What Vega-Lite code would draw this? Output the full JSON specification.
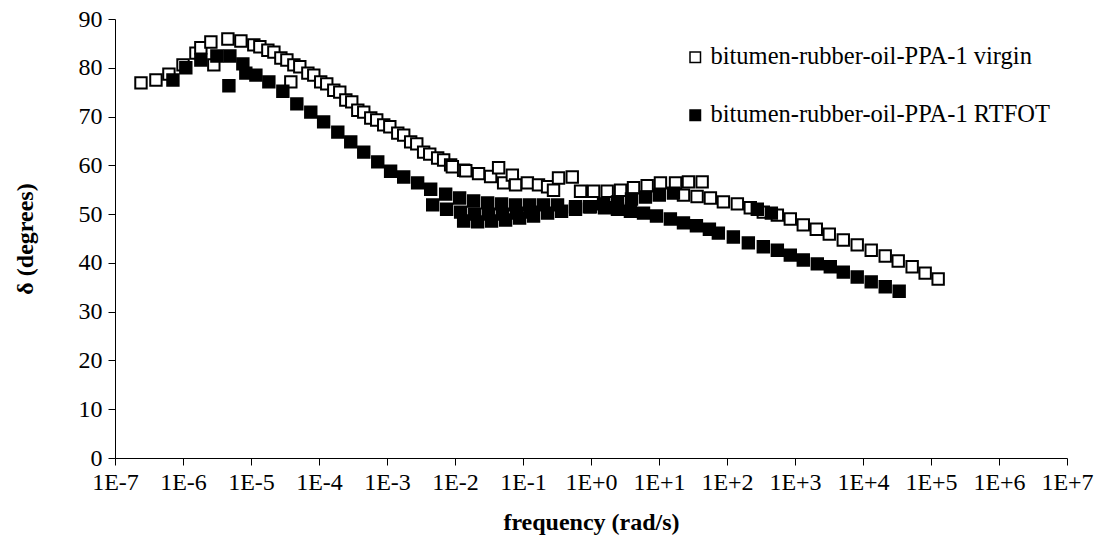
{
  "$schema": "https://vega.github.io/schema/vega-lite/v6.json",
  "width": 952,
  "height": 439,
  "autosize": {"type": "none"},
  "padding": {"left": 115, "top": 19, "right": 30, "bottom": 77},
  "background": "white",
  "config": {
    "view": {"stroke": null},
    "font": "Liberation Serif",
    "axis": {
      "grid": false,
      "domainColor": "black",
      "domainWidth": 1,
      "tickColor": "black",
      "tickWidth": 1,
      "tickSize": 7,
      "labelColor": "black",
      "labelFont": "Liberation Serif",
      "labelFontSize": 24,
      "titleColor": "black",
      "titleFont": "Liberation Serif",
      "titleFontSize": 24,
      "titleFontWeight": "bold"
    }
  },
  "data": {
    "values": [
      {"frequency": 2.41e-7, "delta": 76.9, "sample": "bitumen-rubber-oil-PPA-1 virgin"},
      {"frequency": 4.00e-7, "delta": 77.5, "sample": "bitumen-rubber-oil-PPA-1 virgin"},
      {"frequency": 6.21e-7, "delta": 78.7, "sample": "bitumen-rubber-oil-PPA-1 virgin"},
      {"frequency": 1.00e-6, "delta": 80.6, "sample": "bitumen-rubber-oil-PPA-1 virgin"},
      {"frequency": 1.55e-6, "delta": 83.0, "sample": "bitumen-rubber-oil-PPA-1 virgin"},
      {"frequency": 1.83e-6, "delta": 84.1, "sample": "bitumen-rubber-oil-PPA-1 virgin"},
      {"frequency": 2.57e-6, "delta": 85.3, "sample": "bitumen-rubber-oil-PPA-1 virgin"},
      {"frequency": 2.84e-6, "delta": 80.6, "sample": "bitumen-rubber-oil-PPA-1 virgin"},
      {"frequency": 4.57e-6, "delta": 85.9, "sample": "bitumen-rubber-oil-PPA-1 virgin"},
      {"frequency": 7.10e-6, "delta": 85.5, "sample": "bitumen-rubber-oil-PPA-1 virgin"},
      {"frequency": 1.10e-5, "delta": 84.7, "sample": "bitumen-rubber-oil-PPA-1 virgin"},
      {"frequency": 1.35e-5, "delta": 84.3, "sample": "bitumen-rubber-oil-PPA-1 virgin"},
      {"frequency": 1.77e-5, "delta": 83.6, "sample": "bitumen-rubber-oil-PPA-1 virgin"},
      {"frequency": 2.17e-5, "delta": 83.2, "sample": "bitumen-rubber-oil-PPA-1 virgin"},
      {"frequency": 2.75e-5, "delta": 82.0, "sample": "bitumen-rubber-oil-PPA-1 virgin"},
      {"frequency": 3.37e-5, "delta": 81.6, "sample": "bitumen-rubber-oil-PPA-1 virgin"},
      {"frequency": 3.85e-5, "delta": 77.1, "sample": "bitumen-rubber-oil-PPA-1 virgin"},
      {"frequency": 4.27e-5, "delta": 80.6, "sample": "bitumen-rubber-oil-PPA-1 virgin"},
      {"frequency": 5.22e-5, "delta": 80.2, "sample": "bitumen-rubber-oil-PPA-1 virgin"},
      {"frequency": 6.86e-5, "delta": 78.9, "sample": "bitumen-rubber-oil-PPA-1 virgin"},
      {"frequency": 8.38e-5, "delta": 78.5, "sample": "bitumen-rubber-oil-PPA-1 virgin"},
      {"frequency": 1.06e-4, "delta": 77.1, "sample": "bitumen-rubber-oil-PPA-1 virgin"},
      {"frequency": 1.30e-4, "delta": 76.7, "sample": "bitumen-rubber-oil-PPA-1 virgin"},
      {"frequency": 1.65e-4, "delta": 75.4, "sample": "bitumen-rubber-oil-PPA-1 virgin"},
      {"frequency": 2.02e-4, "delta": 75.0, "sample": "bitumen-rubber-oil-PPA-1 virgin"},
      {"frequency": 2.48e-4, "delta": 73.4, "sample": "bitumen-rubber-oil-PPA-1 virgin"},
      {"frequency": 3.03e-4, "delta": 73.0, "sample": "bitumen-rubber-oil-PPA-1 virgin"},
      {"frequency": 3.72e-4, "delta": 71.3, "sample": "bitumen-rubber-oil-PPA-1 virgin"},
      {"frequency": 4.55e-4, "delta": 70.9, "sample": "bitumen-rubber-oil-PPA-1 virgin"},
      {"frequency": 5.77e-4, "delta": 69.7, "sample": "bitumen-rubber-oil-PPA-1 virgin"},
      {"frequency": 7.06e-4, "delta": 69.3, "sample": "bitumen-rubber-oil-PPA-1 virgin"},
      {"frequency": 8.95e-4, "delta": 68.3, "sample": "bitumen-rubber-oil-PPA-1 virgin"},
      {"frequency": 1.10e-3, "delta": 67.9, "sample": "bitumen-rubber-oil-PPA-1 virgin"},
      {"frequency": 1.44e-3, "delta": 66.6, "sample": "bitumen-rubber-oil-PPA-1 virgin"},
      {"frequency": 1.76e-3, "delta": 66.2, "sample": "bitumen-rubber-oil-PPA-1 virgin"},
      {"frequency": 2.23e-3, "delta": 64.8, "sample": "bitumen-rubber-oil-PPA-1 virgin"},
      {"frequency": 2.74e-3, "delta": 64.4, "sample": "bitumen-rubber-oil-PPA-1 virgin"},
      {"frequency": 3.46e-3, "delta": 62.7, "sample": "bitumen-rubber-oil-PPA-1 virgin"},
      {"frequency": 4.25e-3, "delta": 62.3, "sample": "bitumen-rubber-oil-PPA-1 virgin"},
      {"frequency": 5.56e-3, "delta": 61.5, "sample": "bitumen-rubber-oil-PPA-1 virgin"},
      {"frequency": 6.81e-3, "delta": 61.1, "sample": "bitumen-rubber-oil-PPA-1 virgin"},
      {"frequency": 8.63e-3, "delta": 60.1, "sample": "bitumen-rubber-oil-PPA-1 virgin"},
      {"frequency": 9.14e-3, "delta": 59.7, "sample": "bitumen-rubber-oil-PPA-1 virgin"},
      {"frequency": 1.34e-2, "delta": 59.0, "sample": "bitumen-rubber-oil-PPA-1 virgin"},
      {"frequency": 1.44e-2, "delta": 58.9, "sample": "bitumen-rubber-oil-PPA-1 virgin"},
      {"frequency": 2.22e-2, "delta": 58.3, "sample": "bitumen-rubber-oil-PPA-1 virgin"},
      {"frequency": 3.34e-2, "delta": 57.7, "sample": "bitumen-rubber-oil-PPA-1 virgin"},
      {"frequency": 4.38e-2, "delta": 59.5, "sample": "bitumen-rubber-oil-PPA-1 virgin"},
      {"frequency": 5.19e-2, "delta": 56.4, "sample": "bitumen-rubber-oil-PPA-1 virgin"},
      {"frequency": 6.97e-2, "delta": 58.0, "sample": "bitumen-rubber-oil-PPA-1 virgin"},
      {"frequency": 7.78e-2, "delta": 56.0, "sample": "bitumen-rubber-oil-PPA-1 virgin"},
      {"frequency": 0.116, "delta": 56.4, "sample": "bitumen-rubber-oil-PPA-1 virgin"},
      {"frequency": 0.169, "delta": 56.0, "sample": "bitumen-rubber-oil-PPA-1 virgin"},
      {"frequency": 0.230, "delta": 55.6, "sample": "bitumen-rubber-oil-PPA-1 virgin"},
      {"frequency": 0.281, "delta": 54.9, "sample": "bitumen-rubber-oil-PPA-1 virgin"},
      {"frequency": 0.333, "delta": 57.4, "sample": "bitumen-rubber-oil-PPA-1 virgin"},
      {"frequency": 0.530, "delta": 57.6, "sample": "bitumen-rubber-oil-PPA-1 virgin"},
      {"frequency": 0.702, "delta": 54.7, "sample": "bitumen-rubber-oil-PPA-1 virgin"},
      {"frequency": 1.09, "delta": 54.7, "sample": "bitumen-rubber-oil-PPA-1 virgin"},
      {"frequency": 1.73, "delta": 54.7, "sample": "bitumen-rubber-oil-PPA-1 virgin"},
      {"frequency": 2.72, "delta": 54.9, "sample": "bitumen-rubber-oil-PPA-1 virgin"},
      {"frequency": 4.22, "delta": 55.4, "sample": "bitumen-rubber-oil-PPA-1 virgin"},
      {"frequency": 6.70, "delta": 55.8, "sample": "bitumen-rubber-oil-PPA-1 virgin"},
      {"frequency": 10.5, "delta": 56.4, "sample": "bitumen-rubber-oil-PPA-1 virgin"},
      {"frequency": 17.5, "delta": 56.4, "sample": "bitumen-rubber-oil-PPA-1 virgin"},
      {"frequency": 27.1, "delta": 56.6, "sample": "bitumen-rubber-oil-PPA-1 virgin"},
      {"frequency": 43.1, "delta": 56.6, "sample": "bitumen-rubber-oil-PPA-1 virgin"},
      {"frequency": 22.9, "delta": 53.9, "sample": "bitumen-rubber-oil-PPA-1 virgin"},
      {"frequency": 36.3, "delta": 53.6, "sample": "bitumen-rubber-oil-PPA-1 virgin"},
      {"frequency": 57.0, "delta": 53.3, "sample": "bitumen-rubber-oil-PPA-1 virgin"},
      {"frequency": 88.5, "delta": 52.5, "sample": "bitumen-rubber-oil-PPA-1 virgin"},
      {"frequency": 142, "delta": 52.1, "sample": "bitumen-rubber-oil-PPA-1 virgin"},
      {"frequency": 220, "delta": 51.3, "sample": "bitumen-rubber-oil-PPA-1 virgin"},
      {"frequency": 342, "delta": 50.4, "sample": "bitumen-rubber-oil-PPA-1 virgin"},
      {"frequency": 550, "delta": 49.8, "sample": "bitumen-rubber-oil-PPA-1 virgin"},
      {"frequency": 853, "delta": 49.0, "sample": "bitumen-rubber-oil-PPA-1 virgin"},
      {"frequency": 1324, "delta": 47.8, "sample": "bitumen-rubber-oil-PPA-1 virgin"},
      {"frequency": 2056, "delta": 46.9, "sample": "bitumen-rubber-oil-PPA-1 virgin"},
      {"frequency": 3192, "delta": 45.9, "sample": "bitumen-rubber-oil-PPA-1 virgin"},
      {"frequency": 5129, "delta": 44.7, "sample": "bitumen-rubber-oil-PPA-1 virgin"},
      {"frequency": 8222, "delta": 43.7, "sample": "bitumen-rubber-oil-PPA-1 virgin"},
      {"frequency": 13210, "delta": 42.6, "sample": "bitumen-rubber-oil-PPA-1 virgin"},
      {"frequency": 21230, "delta": 41.4, "sample": "bitumen-rubber-oil-PPA-1 virgin"},
      {"frequency": 32960, "delta": 40.4, "sample": "bitumen-rubber-oil-PPA-1 virgin"},
      {"frequency": 52840, "delta": 39.2, "sample": "bitumen-rubber-oil-PPA-1 virgin"},
      {"frequency": 82040, "delta": 37.9, "sample": "bitumen-rubber-oil-PPA-1 virgin"},
      {"frequency": 127400, "delta": 36.7, "sample": "bitumen-rubber-oil-PPA-1 virgin"},

      {"frequency": 7.11e-7, "delta": 77.5, "sample": "bitumen-rubber-oil-PPA-1 RTFOT"},
      {"frequency": 1.10e-6, "delta": 80.0, "sample": "bitumen-rubber-oil-PPA-1 RTFOT"},
      {"frequency": 1.83e-6, "delta": 81.6, "sample": "bitumen-rubber-oil-PPA-1 RTFOT"},
      {"frequency": 3.15e-6, "delta": 82.4, "sample": "bitumen-rubber-oil-PPA-1 RTFOT"},
      {"frequency": 4.89e-6, "delta": 82.4, "sample": "bitumen-rubber-oil-PPA-1 RTFOT"},
      {"frequency": 4.73e-6, "delta": 76.3, "sample": "bitumen-rubber-oil-PPA-1 RTFOT"},
      {"frequency": 7.59e-6, "delta": 80.8, "sample": "bitumen-rubber-oil-PPA-1 RTFOT"},
      {"frequency": 8.39e-6, "delta": 78.9, "sample": "bitumen-rubber-oil-PPA-1 RTFOT"},
      {"frequency": 1.18e-5, "delta": 78.5, "sample": "bitumen-rubber-oil-PPA-1 RTFOT"},
      {"frequency": 1.83e-5, "delta": 77.1, "sample": "bitumen-rubber-oil-PPA-1 RTFOT"},
      {"frequency": 2.94e-5, "delta": 75.2, "sample": "bitumen-rubber-oil-PPA-1 RTFOT"},
      {"frequency": 4.72e-5, "delta": 72.6, "sample": "bitumen-rubber-oil-PPA-1 RTFOT"},
      {"frequency": 7.57e-5, "delta": 70.9, "sample": "bitumen-rubber-oil-PPA-1 RTFOT"},
      {"frequency": 1.17e-4, "delta": 68.9, "sample": "bitumen-rubber-oil-PPA-1 RTFOT"},
      {"frequency": 1.89e-4, "delta": 66.8, "sample": "bitumen-rubber-oil-PPA-1 RTFOT"},
      {"frequency": 2.93e-4, "delta": 64.8, "sample": "bitumen-rubber-oil-PPA-1 RTFOT"},
      {"frequency": 4.55e-4, "delta": 62.7, "sample": "bitumen-rubber-oil-PPA-1 RTFOT"},
      {"frequency": 7.31e-4, "delta": 60.7, "sample": "bitumen-rubber-oil-PPA-1 RTFOT"},
      {"frequency": 1.13e-3, "delta": 58.8, "sample": "bitumen-rubber-oil-PPA-1 RTFOT"},
      {"frequency": 1.76e-3, "delta": 57.6, "sample": "bitumen-rubber-oil-PPA-1 RTFOT"},
      {"frequency": 2.82e-3, "delta": 56.4, "sample": "bitumen-rubber-oil-PPA-1 RTFOT"},
      {"frequency": 4.39e-3, "delta": 55.1, "sample": "bitumen-rubber-oil-PPA-1 RTFOT"},
      {"frequency": 7.29e-3, "delta": 54.1, "sample": "bitumen-rubber-oil-PPA-1 RTFOT"},
      {"frequency": 1.17e-2, "delta": 53.3, "sample": "bitumen-rubber-oil-PPA-1 RTFOT"},
      {"frequency": 1.88e-2, "delta": 52.7, "sample": "bitumen-rubber-oil-PPA-1 RTFOT"},
      {"frequency": 3.02e-2, "delta": 52.3, "sample": "bitumen-rubber-oil-PPA-1 RTFOT"},
      {"frequency": 4.84e-2, "delta": 52.1, "sample": "bitumen-rubber-oil-PPA-1 RTFOT"},
      {"frequency": 7.78e-2, "delta": 51.9, "sample": "bitumen-rubber-oil-PPA-1 RTFOT"},
      {"frequency": 0.125, "delta": 51.9, "sample": "bitumen-rubber-oil-PPA-1 RTFOT"},
      {"frequency": 0.200, "delta": 51.9, "sample": "bitumen-rubber-oil-PPA-1 RTFOT"},
      {"frequency": 0.322, "delta": 51.9, "sample": "bitumen-rubber-oil-PPA-1 RTFOT"},
      {"frequency": 4.70e-3, "delta": 51.9, "sample": "bitumen-rubber-oil-PPA-1 RTFOT"},
      {"frequency": 7.53e-3, "delta": 51.0, "sample": "bitumen-rubber-oil-PPA-1 RTFOT"},
      {"frequency": 1.21e-2, "delta": 50.4, "sample": "bitumen-rubber-oil-PPA-1 RTFOT"},
      {"frequency": 1.95e-2, "delta": 50.0, "sample": "bitumen-rubber-oil-PPA-1 RTFOT"},
      {"frequency": 3.12e-2, "delta": 50.0, "sample": "bitumen-rubber-oil-PPA-1 RTFOT"},
      {"frequency": 5.01e-2, "delta": 50.0, "sample": "bitumen-rubber-oil-PPA-1 RTFOT"},
      {"frequency": 8.05e-2, "delta": 50.2, "sample": "bitumen-rubber-oil-PPA-1 RTFOT"},
      {"frequency": 0.129, "delta": 50.4, "sample": "bitumen-rubber-oil-PPA-1 RTFOT"},
      {"frequency": 1.34e-2, "delta": 48.6, "sample": "bitumen-rubber-oil-PPA-1 RTFOT"},
      {"frequency": 2.15e-2, "delta": 48.4, "sample": "bitumen-rubber-oil-PPA-1 RTFOT"},
      {"frequency": 3.45e-2, "delta": 48.6, "sample": "bitumen-rubber-oil-PPA-1 RTFOT"},
      {"frequency": 5.55e-2, "delta": 48.8, "sample": "bitumen-rubber-oil-PPA-1 RTFOT"},
      {"frequency": 8.91e-2, "delta": 49.2, "sample": "bitumen-rubber-oil-PPA-1 RTFOT"},
      {"frequency": 0.143, "delta": 49.6, "sample": "bitumen-rubber-oil-PPA-1 RTFOT"},
      {"frequency": 0.230, "delta": 50.2, "sample": "bitumen-rubber-oil-PPA-1 RTFOT"},
      {"frequency": 0.369, "delta": 50.6, "sample": "bitumen-rubber-oil-PPA-1 RTFOT"},
      {"frequency": 0.592, "delta": 51.0, "sample": "bitumen-rubber-oil-PPA-1 RTFOT"},
      {"frequency": 0.951, "delta": 51.5, "sample": "bitumen-rubber-oil-PPA-1 RTFOT"},
      {"frequency": 1.53, "delta": 52.1, "sample": "bitumen-rubber-oil-PPA-1 RTFOT"},
      {"frequency": 2.45, "delta": 52.5, "sample": "bitumen-rubber-oil-PPA-1 RTFOT"},
      {"frequency": 3.94, "delta": 53.1, "sample": "bitumen-rubber-oil-PPA-1 RTFOT"},
      {"frequency": 6.32, "delta": 53.5, "sample": "bitumen-rubber-oil-PPA-1 RTFOT"},
      {"frequency": 10.1, "delta": 53.9, "sample": "bitumen-rubber-oil-PPA-1 RTFOT"},
      {"frequency": 16.3, "delta": 54.3, "sample": "bitumen-rubber-oil-PPA-1 RTFOT"},
      {"frequency": 0.592, "delta": 51.5, "sample": "bitumen-rubber-oil-PPA-1 RTFOT"},
      {"frequency": 0.984, "delta": 51.5, "sample": "bitumen-rubber-oil-PPA-1 RTFOT"},
      {"frequency": 1.58, "delta": 51.3, "sample": "bitumen-rubber-oil-PPA-1 RTFOT"},
      {"frequency": 2.45, "delta": 51.0, "sample": "bitumen-rubber-oil-PPA-1 RTFOT"},
      {"frequency": 3.80, "delta": 50.6, "sample": "bitumen-rubber-oil-PPA-1 RTFOT"},
      {"frequency": 5.92, "delta": 50.2, "sample": "bitumen-rubber-oil-PPA-1 RTFOT"},
      {"frequency": 9.18, "delta": 49.6, "sample": "bitumen-rubber-oil-PPA-1 RTFOT"},
      {"frequency": 14.7, "delta": 49.0, "sample": "bitumen-rubber-oil-PPA-1 RTFOT"},
      {"frequency": 22.9, "delta": 48.2, "sample": "bitumen-rubber-oil-PPA-1 RTFOT"},
      {"frequency": 35.5, "delta": 47.6, "sample": "bitumen-rubber-oil-PPA-1 RTFOT"},
      {"frequency": 55.1, "delta": 46.9, "sample": "bitumen-rubber-oil-PPA-1 RTFOT"},
      {"frequency": 74.6, "delta": 46.1, "sample": "bitumen-rubber-oil-PPA-1 RTFOT"},
      {"frequency": 124, "delta": 45.3, "sample": "bitumen-rubber-oil-PPA-1 RTFOT"},
      {"frequency": 206, "delta": 44.1, "sample": "bitumen-rubber-oil-PPA-1 RTFOT"},
      {"frequency": 279, "delta": 51.0, "sample": "bitumen-rubber-oil-PPA-1 RTFOT"},
      {"frequency": 342, "delta": 43.3, "sample": "bitumen-rubber-oil-PPA-1 RTFOT"},
      {"frequency": 449, "delta": 50.2, "sample": "bitumen-rubber-oil-PPA-1 RTFOT"},
      {"frequency": 550, "delta": 42.6, "sample": "bitumen-rubber-oil-PPA-1 RTFOT"},
      {"frequency": 853, "delta": 41.6, "sample": "bitumen-rubber-oil-PPA-1 RTFOT"},
      {"frequency": 1324, "delta": 40.6, "sample": "bitumen-rubber-oil-PPA-1 RTFOT"},
      {"frequency": 2128, "delta": 39.8, "sample": "bitumen-rubber-oil-PPA-1 RTFOT"},
      {"frequency": 3304, "delta": 39.2, "sample": "bitumen-rubber-oil-PPA-1 RTFOT"},
      {"frequency": 5129, "delta": 38.1, "sample": "bitumen-rubber-oil-PPA-1 RTFOT"},
      {"frequency": 8222, "delta": 37.1, "sample": "bitumen-rubber-oil-PPA-1 RTFOT"},
      {"frequency": 13210, "delta": 36.1, "sample": "bitumen-rubber-oil-PPA-1 RTFOT"},
      {"frequency": 21230, "delta": 35.1, "sample": "bitumen-rubber-oil-PPA-1 RTFOT"},
      {"frequency": 34040, "delta": 34.2, "sample": "bitumen-rubber-oil-PPA-1 RTFOT"}
    ]
  },
  "mark": {"type": "point", "shape": "square", "filled": true, "size": 130, "stroke": "black", "strokeWidth": 2, "opacity": 1},
  "encoding": {
    "x": {
      "field": "frequency",
      "type": "quantitative",
      "scale": {"type": "log", "domain": [1e-7, 1e7], "nice": false},
      "axis": {
        "title": "frequency (rad/s)",
        "values": [1e-7, 1e-6, 1e-5, 1e-4, 1e-3, 1e-2, 1e-1, 1, 10, 100, 1000, 10000, 100000, 1000000, 10000000],
        "labelExpr": "'1E' + (datum.value >= 0.999 ? '+' : '') + round(log(datum.value) / LN10)",
        "labelPadding": 5,
        "labelFlush": false,
        "labelOverlap": false,
        "titleX": 476,
        "titleY": 64,
        "titleBaseline": "middle",
        "titleAnchor": "middle"
      }
    },
    "y": {
      "field": "delta",
      "type": "quantitative",
      "scale": {"domain": [0, 90], "nice": false},
      "axis": {
        "title": "δ (degrees)",
        "values": [0, 10, 20, 30, 40, 50, 60, 70, 80, 90],
        "labelPadding": 6,
        "titleX": -90,
        "titleY": 219.5,
        "titleBaseline": "middle",
        "titleAnchor": "middle",
        "titleAngle": -90
      }
    },
    "fill": {
      "field": "sample",
      "type": "nominal",
      "sort": ["bitumen-rubber-oil-PPA-1 virgin", "bitumen-rubber-oil-PPA-1 RTFOT"],
      "scale": {"domain": ["bitumen-rubber-oil-PPA-1 virgin", "bitumen-rubber-oil-PPA-1 RTFOT"], "range": ["white", "black"]},
      "legend": {
        "title": null,
        "orient": "none",
        "legendX": 568,
        "legendY": 26,
        "padding": 0,
        "symbolType": "square",
        "symbolSize": 110,
        "symbolStrokeColor": "black",
        "symbolStrokeWidth": 1.5,
        "labelFont": "Liberation Serif",
        "labelFontSize": 24.5,
        "labelColor": "black",
        "labelOffset": 3,
        "labelLimit": 500,
        "rowPadding": 33
      }
    },
    "order": {"field": "sample", "sort": "descending"}
  }
}
